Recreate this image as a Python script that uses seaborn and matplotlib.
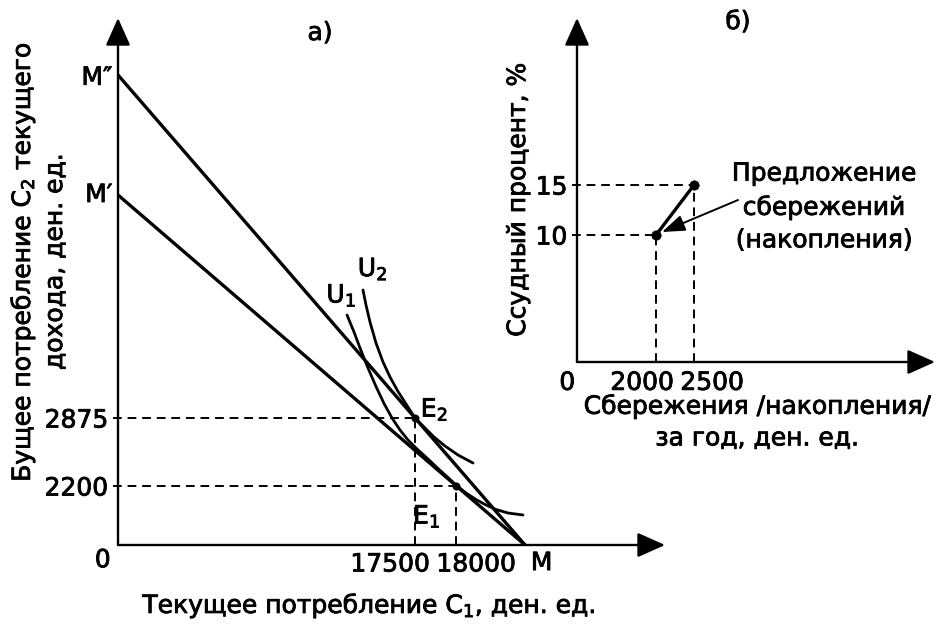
import matplotlib
matplotlib.use("Agg")
import matplotlib.pyplot as plt
import matplotlib.patheffects as pe
from matplotlib.text import Text
import seaborn as sns

# ---------------- panel a) (schematic units, origin in the corner)
m2_top = 470        # M''
m1_top = 350        # M'
m_end = 407         # M
c2_pos = [59, 127]
c2_labels = ["2200", "2875"]
c1_pos = [297, 338]
c1_labels = ["17500", "18000"]
e_points = {"E$_1$": (338, 59), "E$_2$": (297, 127)}

u1_x = [229, 236, 242, 250, 258, 266, 274, 282, 290, 299, 310, 320, 330, 338, 348, 358, 368, 378, 390, 405]
u1_y = [230, 213, 197, 177, 158.5, 141.5, 127, 115, 105, 96, 86, 76.5, 67.5, 60, 52, 45.5, 40, 35.5, 32, 30]
u2_x = [245, 248, 252, 258, 265, 272, 280, 289, 297, 306, 316, 327, 340, 355]
u2_y = [255, 240, 223, 202, 183, 168, 153.5, 139.5, 127, 118, 108, 99, 90, 82]

# ---------------- panel б)
savings_pos = [79, 117]
savings_labels = ["2000", "2500"]
rate_pos = [127, 177]
rate_labels = ["10", "15"]

FS = 18

sns.set_style("white")
plt.rcParams["font.family"] = ["DejaVu Sans"]
plt.rcParams["mathtext.default"] = "regular"
for key in ["text.color", "axes.labelcolor", "xtick.color", "ytick.color"]:
    plt.rcParams[key] = "black"

W, H = 938, 626
fig = plt.figure(figsize=(W / 100, H / 100), dpi=100)


def axes_px(x0, y0, x1, y1):
    # pixel box (origin corner, arrow tips) -> axes
    return fig.add_axes([x0 / W, (H - y0) / H, (x1 - x0) / W, (y0 - y1) / H])


def draw_axes_arrows(ax, xmax, ymax):
    for tip in [(xmax, 0), (0, ymax)]:
        ax.annotate("", xy=tip, xytext=(0, 0), annotation_clip=False,
                    arrowprops=dict(arrowstyle="-|>,head_length=0.85,head_width=0.38",
                                    lw=1.7, color="black", mutation_scale=20,
                                    shrinkA=0, shrinkB=0))
    ax.set_xlim(0, xmax)
    ax.set_ylim(0, ymax)
    for s in ax.spines.values():
        s.set_visible(False)
    ax.set_facecolor("none")


dash = (0, (4.5, 3))

# ================= a)
ax = axes_px(118, 545, 665, 18)
draw_axes_arrows(ax, 547, 527)

sns.lineplot(x=[0, m_end], y=[m2_top, 0], ax=ax, color="black", lw=2.4, sort=False, estimator=None)
sns.lineplot(x=[0, m_end], y=[m1_top, 0], ax=ax, color="black", lw=2.4, sort=False, estimator=None)
sns.lineplot(x=u1_x, y=u1_y, ax=ax, color="black", lw=2.0, sort=False, estimator=None)
sns.lineplot(x=u2_x, y=u2_y, ax=ax, color="black", lw=2.0, sort=False, estimator=None)

for (ex, ey) in e_points.values():
    ax.hlines(ey, -5, ex, colors="black", lw=1.4, linestyles=dash, clip_on=False)
    ax.vlines(ex, 0, ey, colors="black", lw=1.4, linestyles=dash)
sns.scatterplot(x=[p[0] for p in e_points.values()], y=[p[1] for p in e_points.values()],
                ax=ax, color="black", s=28, edgecolor="black")

ax.set_yticks(c2_pos, c2_labels, fontsize=FS)
ax.tick_params(axis="y", length=0, pad=7)
ax.set_xticks([])

ax.annotate(c1_labels[0], (c1_pos[0], 0), xytext=(-18, -14), textcoords="offset points",
            ha="center", va="center", fontsize=FS)
ax.annotate(c1_labels[1], (c1_pos[1], 0), xytext=(14.5, -14), textcoords="offset points",
            ha="center", va="center", fontsize=FS)
ax.annotate("0", (0, 0), xytext=(-11, -11), textcoords="offset points",
            ha="center", va="center", fontsize=FS)
ax.annotate("M", (m_end, 0), xytext=(12, -13), textcoords="offset points",
            ha="center", va="center", fontsize=FS)
ax.annotate("M\u2033", (0, m2_top), xytext=(-4, -2), textcoords="offset points",
            ha="right", va="center", fontsize=FS)
ax.annotate("M\u2032", (0, m1_top), xytext=(-4, 0), textcoords="offset points",
            ha="right", va="center", fontsize=FS)
ax.annotate("U$_1$", (u1_x[0], u1_y[0]), xytext=(-4, 14), textcoords="offset points",
            ha="center", va="center", fontsize=FS)
ax.annotate("U$_2$", (u2_x[0], u2_y[0]), xytext=(7, 15), textcoords="offset points",
            ha="center", va="center", fontsize=FS)
ax.annotate("E$_2$", e_points["E$_2$"], xytext=(14, 6), textcoords="offset points",
            ha="center", va="center", fontsize=FS)
ax.annotate("E$_1$", e_points["E$_1$"], xytext=(-21, -22), textcoords="offset points",
            ha="center", va="center", fontsize=FS)
ax.text(202, 512, "а)", ha="center", va="center", fontsize=FS)

fig.text(369 / W, 1 - 605 / H, "Текущее потребление C$_1$, ден. ед.",
         ha="center", va="center", fontsize=FS)
fig.text(22 / W, 1 - 262 / H, "Бущее потребление C$_2$ текущего",
         ha="center", va="center", rotation=90, fontsize=FS)
fig.text(55 / W, 1 - 262 / H, "дохода, ден. ед.",
         ha="center", va="center", rotation=90, fontsize=FS)

# ================= б)
bx = axes_px(577, 362, 935, 18)
draw_axes_arrows(bx, 358, 344)

for sx, ry in zip(savings_pos, rate_pos):
    bx.hlines(ry, -5, sx, colors="black", lw=1.4, linestyles=dash, clip_on=False)
    bx.vlines(sx, 0, ry, colors="black", lw=1.4, linestyles=dash)
sns.lineplot(x=savings_pos, y=rate_pos, ax=bx, color="black", lw=2.4, sort=False, estimator=None)
sns.scatterplot(x=savings_pos, y=rate_pos, ax=bx, color="black", s=45, edgecolor="black")

bx.set_yticks(rate_pos, rate_labels, fontsize=FS)
bx.tick_params(axis="y", length=0, pad=7)
bx.set_xticks([])
bx.annotate("0", (0, 0), xytext=(-7, -15), textcoords="offset points",
            ha="center", va="center", fontsize=FS)
bx.annotate(savings_labels[0], (savings_pos[0], 0), xytext=(-10, -15), textcoords="offset points",
            ha="center", va="center", fontsize=FS)
bx.annotate(savings_labels[1], (savings_pos[1], 0), xytext=(13, -15), textcoords="offset points",
            ha="center", va="center", fontsize=FS)
bx.text(161, 340, "б)", ha="center", va="center", fontsize=FS)

bx.text(247, 155, "Предложение\nсбережений\n(накопления)", ha="center", va="center",
        fontsize=FS, linespacing=1.45)
bx.annotate("", xy=(savings_pos[0] + 6, rate_pos[0] + 3), xytext=(161, 162),
            arrowprops=dict(arrowstyle="-|>,head_length=0.7,head_width=0.25", lw=1.4,
                            color="black", mutation_scale=20, shrinkA=0, shrinkB=0))

fig.text(757 / W, 1 - 422 / H, "Сбережения /накопления/\nза год, ден. ед.",
         ha="center", va="center", fontsize=FS, linespacing=1.4)
fig.text(518 / W, 1 - 200 / H, "Ссудный процент, %", ha="center", va="center",
         rotation=90, fontsize=FS)

# heavier glyphs, like the printed original
for t in fig.findobj(Text):
    t.set_path_effects([pe.withStroke(linewidth=0.6, foreground="black")])

fig.savefig("out.png", dpi=100, facecolor="white")
